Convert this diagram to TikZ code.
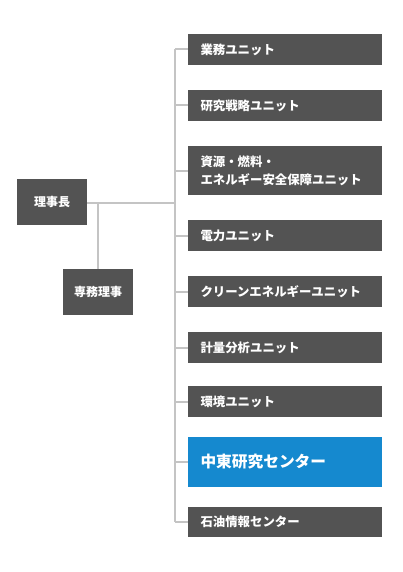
\documentclass[tikz,border=0pt]{standalone}
\usepackage{fontspec}
\newfontfamily\jpfont{Noto Sans CJK JP}
\usetikzlibrary{positioning}
\definecolor{boxgray}{HTML}{535353}
\definecolor{linegray}{HTML}{C4C4C4}
\definecolor{centerblue}{HTML}{1589CF}

\begin{document}
\begin{tikzpicture}[x=1pt, y=-1pt,
      font=\jpfont\bfseries\fontsize{12}{18}\selectfont,
      exec/.style={fill=boxgray, text=white, minimum width=70pt,
        minimum height=46pt, inner sep=0pt, outer sep=0pt},
      unit/.style={fill=boxgray, text=white, text width=169pt,
        inner xsep=12.5pt, inner ysep=0pt, outer sep=0pt,
        minimum height=31pt, align=left,
        font=\jpfont\bfseries\fontsize{12.4}{18}\selectfont},
      hub/.style={unit, fill=centerblue, minimum height=50pt,
        font=\jpfont\bfseries\fontsize{15.7}{18}\selectfont},
      link/.style={draw=linegray, line width=2pt}]

    \fill[white] (0,0) rectangle (403,572);
    \useasboundingbox (0,0) rectangle (403,572);

    % board
    \node[exec, anchor=north west] (chair) at (17,179) {理事長};
    \node[exec, anchor=north west] (senmu) at (63,269) {専務理事};
    % units
    \node[unit, anchor=north west] (u1) at (188,34) {業務ユニット};
    \node[unit, below=25pt of u1] (u2) {研究戦略ユニット};
    \node[unit, below=25pt of u2, minimum height=49pt] (u3) {資源・燃料・\\
      エネルギー安全保障ユニット};
    \node[unit, below=25pt of u3] (u4) {電力ユニット};
    \node[unit, below=25pt of u4] (u5) {クリーンエネルギーユニット};
    \node[unit, below=25pt of u5] (u6) {計量分析ユニット};
    \node[unit, below=23pt of u6] (u7) {環境ユニット};
    \node[hub, below=20pt of u7] (u8) {中東研究センター};
    \node[unit, below=20pt of u8, minimum height=30pt] (u9) {石油情報センター};

    \coordinate (trunk) at (175,203);

    \draw[link] (chair.east |- trunk) -- (trunk);
    \draw[link] (senmu.north) -- (senmu.north |- trunk);
    \draw[link] (trunk |- u1.west) -- (trunk |- u9.west);
    \foreach \i in {1,...,9} {\draw[link] (trunk |- u\i.west) -- (u\i.west);}
  \end{tikzpicture}
\end{document}
